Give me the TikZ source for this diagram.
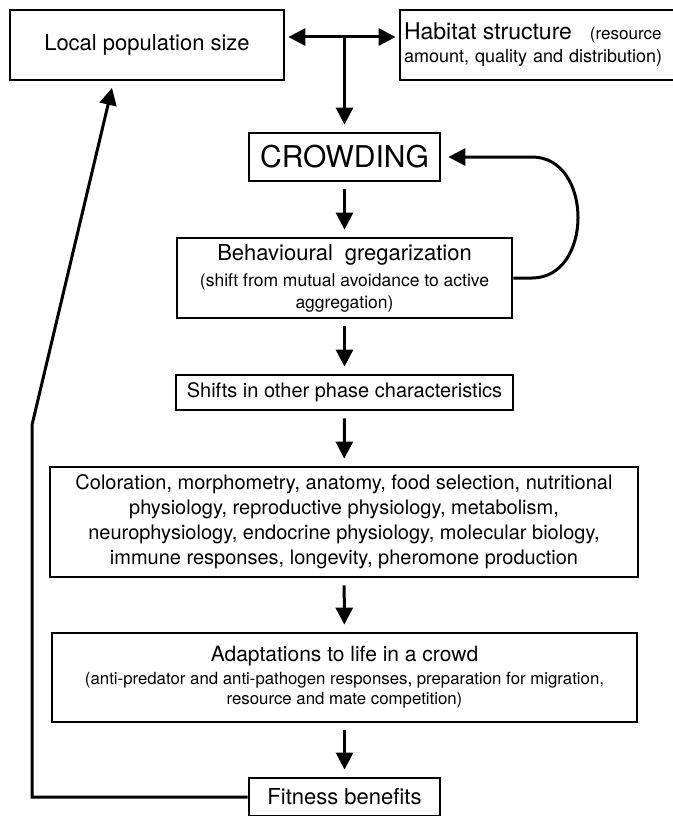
\documentclass[tikz,border=0pt]{standalone}
\usepackage{fontspec}
\setmainfont{TeX Gyre Heros}
\usetikzlibrary{arrows.meta}

\begin{document}
\begin{tikzpicture}[
    x=1pt, y=-1pt,
    box/.style={rectangle, draw, line width=2.8pt, inner sep=0pt, align=center},
    arrow/.style={-{Triangle[width=17pt,length=17pt]}, line width=3pt, shorten <=7pt, shorten >=7pt},
    dblarrow/.style={{Triangle[width=17pt,length=17pt]}-{Triangle[width=17pt,length=17pt]}, line width=3pt, shorten <=3pt, shorten >=3pt}
]

% page
\useasboundingbox (0,0) rectangle (672,816);
\fill[white] (0,0) rectangle (672,816);

% top row
\node[box, minimum width=274, minimum height=70, font=\fontsize{22}{26}\selectfont] (popsize) at (147,45) {Local population size};
\node[box, text width=280pt, inner xsep=4pt, minimum height=70, align=left, font=\fontsize{18}{23}\selectfont] (habitat) at (544,45) {{\fontsize{23}{27}\selectfont Habitat structure}\hspace{18pt}{\fontsize{17}{20}\selectfont (resource}\\amount, quality and distribution)};

% main column
\node[box, minimum width=191, minimum height=48, font=\fontsize{30}{34}\selectfont] (crowd) at (344.5,157) {CROWDING};
\node[box, minimum width=335, minimum height=80, font=\fontsize{17.5}{22}\selectfont] (gregar) at (344.5,278) {{\fontsize{22}{26}\selectfont Behavioural\hspace{12pt}gregarization}\\[4pt](shift from mutual avoidance to active\\aggregation)};
\node[box, minimum width=337, minimum height=35, font=\fontsize{20}{24}\selectfont] (shifts) at (344.5,392.5) {Shifts in other phase characteristics};
\node[box, minimum width=588, minimum height=110, font=\fontsize{20}{25}\selectfont] (traits) at (344,522) {Coloration, morphometry, anatomy, food selection, nutritional\\physiology, reproductive physiology, metabolism,\\neurophysiology, endocrine physiology, molecular biology,\\immune responses, longevity, pheromone production};
\node[box, minimum width=585, minimum height=89, font=\fontsize{16.8}{20}\selectfont] (adapt) at (344.5,677.5) {{\fontsize{21}{25}\selectfont Adaptations to life in a crowd}\\[3pt](anti-predator and anti-pathogen responses, preparation for migration,\\resource and mate competition)};
\node[box, minimum width=191, minimum height=38, font=\fontsize{22}{26}\selectfont] (fitness) at (344.5,797) {Fitness benefits};

% helper points
\coordinate (tee) at (344.5,37);
\coordinate (loopa) at (532,278);
\coordinate (loopb) at (532,157);
\coordinate (fbcorner) at (32,797);
\coordinate (fbbend) at (32,425);
\coordinate (fbtip) at (112,88);

% arrows
\draw[dblarrow] ([yshift=8pt]popsize.east) -- ([yshift=8pt]habitat.west);
\draw[arrow, shorten <=0pt] (tee) -- (crowd);
\draw[arrow] (crowd) -- (gregar);
\draw[arrow] (gregar) -- (shifts);
\draw[arrow] (shifts) -- (traits);
\draw[arrow] (traits) -- (adapt);
\draw[arrow] (adapt) -- (fitness);
\draw[arrow, shorten <=0pt] (gregar.east) -- (loopa) to[out=0, in=0, looseness=1.3] (loopb) -- (crowd.east);
\draw[arrow, shorten <=0pt, shorten >=0pt] (fitness.west) -- (fbcorner) -- (fbbend) -- (fbtip);

\end{tikzpicture}
\end{document}
